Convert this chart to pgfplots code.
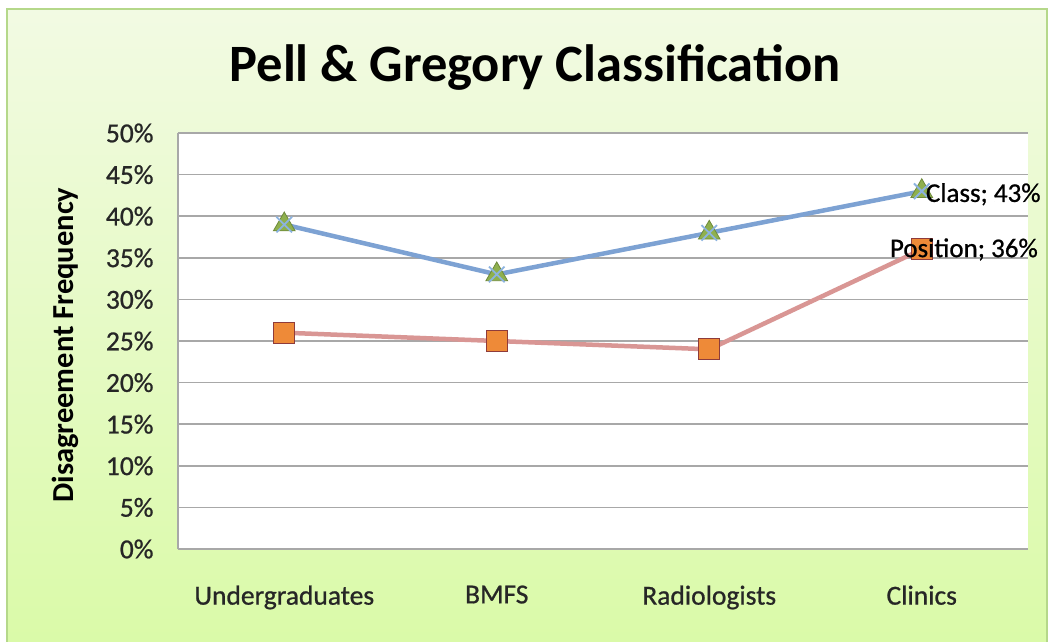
\documentclass[border=0pt]{standalone}
\usepackage{fontspec}
\setmainfont{Carlito}
\newfontfamily\heavy{Carlito}[FakeBold=0.8]
\usepackage{pgfplots}
\pgfplotsset{compat=1.18}
\definecolor{bgtop}{HTML}{F2FAE3}
\definecolor{bgbot}{HTML}{DAFAA8}
\definecolor{frame}{HTML}{B5D88A}
\definecolor{classline}{HTML}{7DA2D3}
\definecolor{classtri}{HTML}{8FB04E}
\definecolor{classtriedge}{HTML}{6E8A3A}
\definecolor{classx}{HTML}{8CB3E0}
\definecolor{posline}{HTML}{D99694}
\definecolor{possq}{HTML}{EE8A38}
\definecolor{possqedge}{HTML}{8E3B3B}
\definecolor{gridc}{HTML}{A8A8A8}
\begin{document}
\begin{tikzpicture}
\useasboundingbox (-178pt,-92pt) rectangle (872pt,549pt);
\fill[white] (-178pt,-92pt) rectangle (872pt,549pt);
\shade[top color=bgtop, bottom color=bgbot] (-171pt,-96pt) rectangle (869pt,540pt);
\draw[frame, line width=1.5pt] (-171pt,-96pt) rectangle (869pt,540pt);
\node[font=\fontsize{52.5}{62}\selectfont\bfseries, text=black] at (357pt,482pt) {Pell \& Gregory Classification};
\begin{axis}[
  at={(0pt,0pt)}, anchor=south west,
  scale only axis, width=850pt, height=416pt,
  xmin=-0.5, xmax=3.5, ymin=0, ymax=50,
  xtick={0,1,2,3},
  xticklabels={Undergraduates,BMFS,Radiologists,Clinics},
  ytick={0,5,...,50},
  yticklabel={\pgfmathprintnumber{\tick}\%},
  /pgf/number format/assume math mode=true,
  axis background/.style={fill=white},
  axis lines*=left,
  axis line style={gridc, line width=1.2pt},
  ymajorgrids, major grid style={gridc, line width=1.6pt},
  major tick length=0pt,
  tick label style={font=\fontsize{27.5}{32}\selectfont\heavy, text=black!85},
  yticklabel style={xshift=-21pt},
  xticklabel style={yshift=-33pt},
  ylabel={Disagreement Frequency},
  every axis y label/.style={at={(axis description cs:-0.133,0.49)}, rotate=90, anchor=center, font=\fontsize{30.5}{34}\selectfont\bfseries, text=black},
  clip=false,
]
\addplot[classline, line width=4.5pt, mark=triangle*, mark size=12.5pt,
  mark options={fill=classtri, draw=classtriedge, line width=0.8pt}]
  coordinates {(0,39) (1,33) (2,38) (3,43)};
\addplot[draw=none, mark=x, mark size=11pt, mark options={classx, line width=1.8pt}]
  coordinates {(0,39) (1,33) (2,38) (3,43)};
\addplot[posline, line width=4.5pt, mark=square*, mark size=10.5pt,
  mark options={fill=possq, draw=possqedge, line width=1pt}]
  coordinates {(0,26) (1,25) (2,24) (3,36)};
\coordinate (cl) at (axis cs:3,43);
\coordinate (po) at (axis cs:3,36);
\end{axis}
\node[anchor=west, font=\fontsize{27}{32}\selectfont\heavy, text=black, inner sep=0pt] at ([xshift=4pt, yshift=-3pt]cl) {Class; 43\%};
\node[anchor=west, font=\fontsize{27}{32}\selectfont\heavy, text=black, inner sep=0pt] at ([xshift=-32pt]po) {Position; 36\%};
\end{tikzpicture}
\end{document}
